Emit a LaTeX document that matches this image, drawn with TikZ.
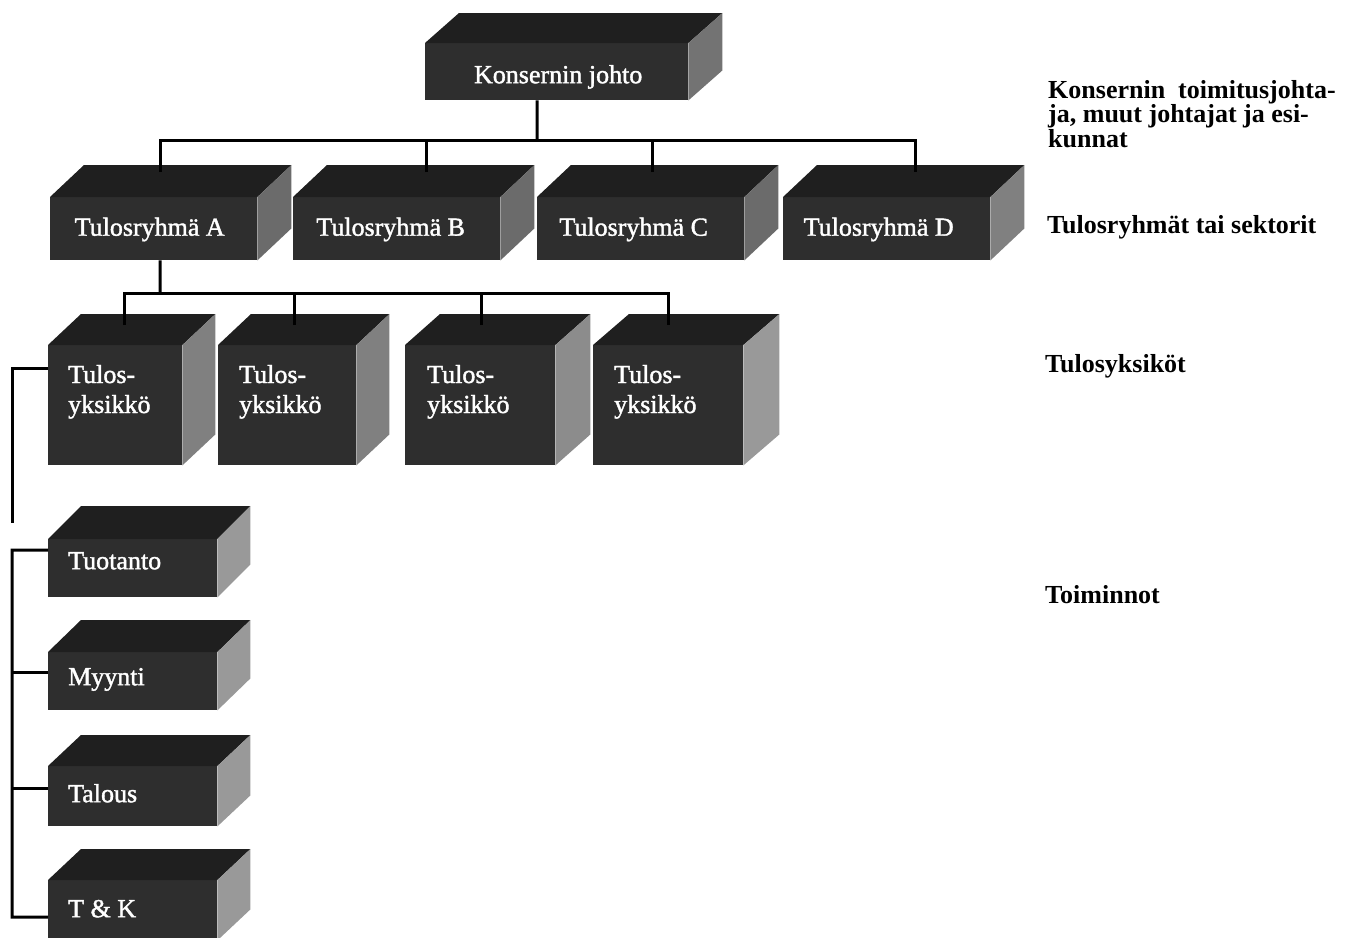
\documentclass[tikz,border=0pt]{standalone}
\usepackage{fontspec}
\setmainfont{Liberation Serif}
\newfontfamily\boxfont[FakeBold=1.5]{Liberation Serif}
\tikzset{
  front/.style={fill=black!82, draw=none, inner sep=0pt, anchor=north west},
  topf/.style={fill=black!88},
  btxt/.style={text=white, font=\boxfont\fontsize{26}{30}\selectfont, inner sep=0pt},
  conn/.style={line width=3pt, draw=black},
  lbl/.style={font=\bfseries\fontsize{26}{23}\selectfont, inner sep=0pt, anchor=base west},
}
% name, x, y, width, height, dx, dy, side colour
\newcommand{\blok}[8]{%
  \node[front, minimum width=#4pt, minimum height=#5pt] (#1) at (#2,#3) {};
  \fill[topf] (#1.north west) -- ++(#6,-#7) -- ([shift={(#6,-#7)}]#1.north east) -- (#1.north east) -- cycle;
  \fill[fill=#8] (#1.north east) -- ++(#6,-#7) -- ([shift={(#6,-#7)}]#1.south east) -- (#1.south east) -- cycle;
}
\newcommand{\twoln}[2]{\vtop{\baselineskip=30pt\hbox{#1}\hbox{#2}}}
\begin{document}
\begin{tikzpicture}[x=1pt,y=-1pt]
\useasboundingbox (0,0) rectangle (1356,937);
\fill[white] (0,0) rectangle (1356,937);

% top box
\blok{K}{425}{43}{263}{57}{34}{30}{black!55}
\node[btxt, anchor=base] (Kt) at ([shift={(1.5,11.5)}]K.center) {Konsernin johto};

% row 2
\blok{A}{50}{197}{207}{63}{34}{32}{black!58}
\blok{B}{293}{197}{207}{63}{34}{32}{black!58}
\blok{C}{537}{197}{207}{63}{34}{32}{black!58}
\blok{D}{783}{197}{207}{63}{34}{32}{black!50}
\node[btxt, anchor=base] (At) at ([shift={(-4,7)}]A.center) {Tulosryhmä A};
\node[btxt, anchor=base] (Bt) at ([shift={(-6,7)}]B.center) {Tulosryhmä B};
\node[btxt, anchor=base] (Ct) at ([shift={(-7,7)}]C.center) {Tulosryhmä C};
\node[btxt, anchor=base] (Dt) at ([shift={(-8,7)}]D.center) {Tulosryhmä D};

% row 3
\blok{U1}{48}{345}{134}{120}{33}{31}{black!50}
\blok{U2}{218}{345}{138}{120}{33}{31}{black!50}
\blok{U3}{405}{345}{150}{120}{35}{31}{black!45}
\blok{U4}{593}{345}{150}{120}{36}{31}{black!40}
\node[btxt, anchor=base west] (U1t) at ([shift={(20,38)}]U1.north west) {\twoln{Tulos-}{yksikkö}};
\node[btxt, anchor=base west] (U2t) at ([shift={(21,38)}]U2.north west) {\twoln{Tulos-}{yksikkö}};
\node[btxt, anchor=base west] (U3t) at ([shift={(22,38)}]U3.north west) {\twoln{Tulos-}{yksikkö}};
\node[btxt, anchor=base west] (U4t) at ([shift={(21,38)}]U4.north west) {\twoln{Tulos-}{yksikkö}};

% functions
\blok{F1}{48}{539}{169}{58}{33}{33}{black!40}
\blok{F2}{48}{652}{169}{58}{33}{32}{black!40}
\blok{F3}{48}{766}{169}{60}{33}{31}{black!40}
\blok{F4}{48}{880}{169}{60}{33}{31}{black!40}
\node[btxt, anchor=base west] (F1t) at ([shift={(20,1)}]F1.west) {Tuotanto};
\node[btxt, anchor=base west] (F2t) at ([shift={(20,4)}]F2.west) {Myynti};
\node[btxt, anchor=base west] (F3t) at ([shift={(20,6)}]F3.west) {Talous};
\node[btxt, anchor=base west] (F4t) at ([shift={(20,7)}]F4.west) {T \& K};

% connectors top -> row 2
\coordinate (bar1) at (537,140);
\draw[conn] ([shift={(-19.5,0)}]K.south) -- (bar1);
\draw[conn] ([shift={(6.5,-25)}]A.north) |- (bar1) -| ([shift={(28.5,-25)}]D.north);
\draw[conn] ([shift={(29.5,-25)}]B.north) -- ++(0,-32);
\draw[conn] ([shift={(11.5,-25)}]C.north) -- ++(0,-32);

% row 2 -> row 3
\coordinate (bar2) at (160,293);
\draw[conn] ([shift={(6.5,0)}]A.south) -- (bar2);
\draw[conn] ([shift={(9,-20)}]U1.north) |- (bar2) -| ([shift={(0,-20)}]U4.north);
\draw[conn] ([shift={(7.5,-20)}]U2.north) -- ++(0,-32);
\draw[conn] ([shift={(1,-20)}]U3.north) -- ++(0,-32);

% left lines
\coordinate (e1) at (12,523);
\draw[conn] ([shift={(0,-37)}]U1.west) -| (e1);
\coordinate (e2) at (12,917);
\draw[conn] ([shift={(0,-18)}]F1.west) -| (e2) -- ([shift={(0,7)}]F4.west);
\draw[conn] ([shift={(0,-9)}]F2.west) -- ++(-36,0);
\draw[conn] ([shift={(0,-8)}]F3.west) -- ++(-36,0);

% level labels
\node[lbl] (L1) at (1048,98) {\vtop{\baselineskip=23pt\hbox{Konsernin\ \ toimitusjohta-}\hbox{ja, muut johtajat ja esi-}\hbox{kunnat}}};
\node[lbl] (L2) at (1047,233) {Tulosryhmät tai sektorit};
\node[lbl] (L3) at (1045,372) {Tulosyksiköt};
\node[lbl] (L4) at (1045,603) {Toiminnot};
\end{tikzpicture}
\end{document}
